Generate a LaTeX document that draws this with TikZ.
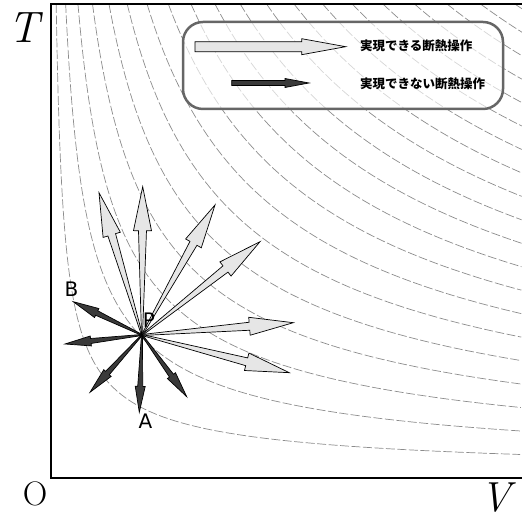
\documentclass[tikz,border=0pt]{standalone}
\usepackage{fontspec}
\usepackage{tikz}
\usetikzlibrary{calc}
\newfontfamily\jpfont{Noto Sans CJK JP}
\newfontfamily\lblfont{DejaVu Sans}
\definecolor{canfill}{HTML}{E6E6E6}
\definecolor{cannotfill}{HTML}{3A3A3A}
\definecolor{adiabat}{HTML}{8C8C8C}
\definecolor{legendline}{HTML}{666666}

% closed arrow outline: #1 style, #2 start, #3 tip, #4 half width at start,
% #5 half width of shaft, #6 head length, #7 half width of head
\newcommand{\oparrow}[7]{%
  \coordinate (hb) at ($(#3)!#6!(#2)$);
  \draw[#1] ($(#2)!#4!90:(#3)$) -- ($(hb)!#5!90:(#3)$) -- ($(hb)!#7!90:(#3)$)
    -- (#3) -- ($(hb)!#7!-90:(#3)$) -- ($(hb)!#5!-90:(#3)$)
    -- ($(#2)!#4!-90:(#3)$) -- cycle;}

\begin{document}
\begin{tikzpicture}[x=1pt,y=1pt,
    adiabatline/.style={adiabat,line width=0.7pt,dash pattern=on 9pt off 2.5pt},
    canop/.style={draw=black,line width=0.7pt,fill=canfill,line join=miter},
    cannotop/.style={draw=black,line width=0.7pt,fill=cannotfill,line join=miter},
    jptext/.style={font=\jpfont\bfseries\fontsize{12.5}{14}\selectfont,anchor=west,inner sep=0pt},
    axlabel/.style={inner sep=0pt},
    ptlabel/.style={font=\lblfont\fontsize{20}{20}\selectfont,inner sep=0pt}]
  \useasboundingbox (0,0) rectangle (522,521);

  % adiabats T V^{2/3} = const
  \begin{scope}
    \clip (51,43) rectangle (522,517);
    \foreach \k in {1,...,20}{
      \pgfmathsetmacro{\uo}{pow(2.9958*\k,1.5)}
      \draw[adiabatline] plot[domain=0:1,samples=70,variable=\t]
        ({51+\uo*pow(471/\uo,\t)},{43+474*pow(471/\uo,-2*\t/3)});
    }
  \end{scope}

  % axes
  \draw[line width=1.1pt] (522,517) -- (51,517) -- (51,43) -- (522,43);
  \node[axlabel,font=\fontsize{44}{44}\selectfont\itshape] (tlab) at (24,493) {T};
  \node[axlabel,font=\fontsize{42}{42}\selectfont\itshape] (vlab) at (496,23.5) {V};
  \node[axlabel,font=\fontsize{34}{34}\selectfont] (olab) at (35,27.5) {O};

  % legend
  \draw[legendline,line width=2.5pt,rounded corners=20pt,fill=white,fill opacity=0.65]
    (183,412) rectangle (503,499);
  \coordinate (lc1) at (195,474.3);
  \coordinate (lc2) at (345.7,474.3);
  \coordinate (ld1) at (231.7,438);
  \coordinate (ld2) at (309,438);
  \oparrow{canop}{lc1}{lc2}{5pt}{5pt}{44pt}{8pt}
  \oparrow{cannotop}{ld1}{ld2}{2.5pt}{2.5pt}{24pt}{4.5pt}
  \node[jptext] (can) at (360,475) {実現できる断熱操作};
  \node[jptext] (cannot) at (360,437) {実現できない断熱操作};

  % state P and the operations from it
  \coordinate (P) at (142,186);
  \coordinate (c1) at (99,328.3);
  \coordinate (c2) at (142.7,334.3);
  \coordinate (c3) at (215,316);
  \coordinate (c4) at (260,279.3);
  \coordinate (c5) at (293.3,198.3);
  \coordinate (c6) at (289.3,148.3);
  \coordinate (B) at (73.3,219.3);
  \coordinate (d2) at (65,177);
  \coordinate (d3) at (90,128.7);
  \coordinate (A) at (139.3,108.7);
  \coordinate (d5) at (186.7,124.3);
  \foreach \c in {c1,c2,c3,c4,c5,c6}{
    \oparrow{canop}{P}{\c}{0.5pt}{4pt}{44pt}{9pt}
  }
  \foreach \d in {B,d2,d3,A,d5}{
    \oparrow{cannotop}{P}{\d}{0.5pt}{2.5pt}{26pt}{5pt}
  }

  \node[ptlabel] (plab) at (149,200.5) {P};
  \node[ptlabel] (blab) at (71.5,232) {B};
  \node[ptlabel] (alab) at (145.5,100) {A};
\end{tikzpicture}
\end{document}
